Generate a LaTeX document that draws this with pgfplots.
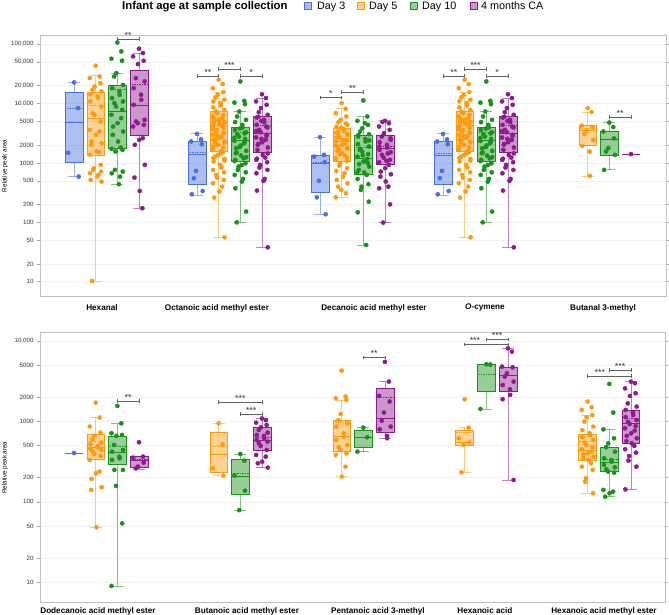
\documentclass[border=0pt]{standalone}
\usepackage{fontspec}
\setmainfont{Liberation Sans}
\usepackage{pgfplots}
\usepackage{pgfplotstable}
\pgfplotsset{compat=1.18}

\definecolor{cB}{HTML}{4A6FE3}
\definecolor{cO}{HTML}{FF9A10}
\definecolor{cG}{HTML}{18921A}
\definecolor{cP}{HTML}{8E1A8E}

% ---------- data (relative peak area, one value per point) ----------
\pgfplotstableread[row sep=\\,header=false]{22700\\8400\\1480\\590\\}\tHexB
\pgfplotstableread[row sep=\\,header=false]{43400\\28600\\26900\\22100\\19400\\17100\\16000\\14400\\13200\\12400\\10900\\8900\\6900\\6500\\5000\\3600\\3400\\2980\\2300\\2150\\2020\\1560\\1520\\1370\\930\\815\\765\\717\\671\\630\\590\\519\\486\\10.3\\}\tHexO
\pgfplotstableread[row sep=\\,header=false]{107000\\75700\\56900\\52700\\32700\\28700\\20700\\18200\\16000\\14100\\12400\\10900\\10200\\8940\\7850\\6470\\5690\\4680\\4110\\3390\\2980\\2300\\1820\\1730\\1660\\1560\\764\\716\\671\\590\\439\\}\tHexG
\pgfplotstableread[row sep=\\,header=false]{84000\\71000\\62400\\52700\\46300\\26900\\23600\\18200\\14100\\11600\\9540\\5330\\5000\\4680\\4390\\4110\\2620\\2450\\2020\\930\\568\\338\\173\\}\tHexP
\pgfplotstableread[row sep=\\,header=false]{3090\\2500\\2300\\2070\\736\\553\\338\\297\\}\tOctB
\pgfplotstableread[row sep=\\,header=false]{25200\\21300\\18200\\15600\\14100\\12700\\11600\\10900\\10200\\9300\\8600\\7850\\7360\\6900\\6470\\6070\\5690\\5330\\5130\\4870\\4680\\4500\\4280\\4060\\3860\\3610\\3390\\3180\\2980\\2790\\2620\\2450\\2300\\2150\\2020\\1820\\1660\\1520\\1370\\1280\\1170\\1060\\930\\838\\765\\698\\630\\568\\519\\456\\400\\330\\261\\56\\5500\\5000\\4400\\3700\\3300\\2880\\2500\\2200\\1900\\1580\\1450\\1220\\1100\\}\tOctO
\pgfplotstableread[row sep=\\,header=false]{23600\\11100\\10400\\9800\\7360\\6070\\5330\\4870\\4390\\3960\\3610\\3300\\3050\\2790\\2550\\2360\\2150\\1970\\1770\\1600\\1460\\1330\\1200\\1080\\990\\870\\765\\698\\630\\539\\486\\375\\152\\100\\3800\\3150\\2650\\2250\\1850\\1500\\1250\\1130\\920\\}\tOctG
\pgfplotstableread[row sep=\\,header=false]{14400\\12400\\10900\\9540\\8380\\7180\\6470\\5830\\5330\\4870\\4390\\3960\\3610\\3300\\2980\\2690\\2450\\2240\\2020\\1820\\1660\\1370\\1230\\1130\\1030\\930\\838\\765\\671\\539\\499\\343\\38\\6000\\5100\\4100\\3450\\2850\\2550\\2100\\1450\\1180\\}\tOctP
\pgfplotstableread[row sep=\\,header=false]{2720\\1370\\1280\\1030\\499\\264\\137\\}\tDecB
\pgfplotstableread[row sep=\\,header=false]{10200\\8170\\6900\\6070\\5330\\4870\\4390\\4060\\3760\\3480\\3220\\2980\\2790\\2620\\2450\\2300\\2150\\2020\\1870\\1730\\1600\\1460\\1330\\1200\\1080\\990\\905\\817\\736\\671\\590\\519\\456\\400\\352\\309\\264\\4600\\3900\\3350\\3050\\2700\\2400\\2200\\1950\\1800\\1650\\1400\\1250\\1130\\}\tDecO
\pgfplotstableread[row sep=\\,header=false]{11300\\6070\\5130\\4390\\3860\\3390\\3050\\2790\\2550\\2300\\2070\\1890\\1730\\1560\\1410\\1280\\1170\\1060\\953\\871\\765\\698\\630\\539\\439\\400\\352\\223\\148\\41.6\\4700\\2950\\2400\\1650\\1350\\1000\\700\\}\tDecG
\pgfplotstableread[row sep=\\,header=false]{5130\\4680\\4110\\3610\\3180\\2790\\2450\\2240\\2020\\1820\\1660\\1520\\1370\\1230\\1130\\1030\\930\\817\\716\\646\\590\\486\\400\\375\\201\\99\\4900\\2600\\1900\\1450\\1080\\}\tDecP
\pgfplotstableread[row sep=\\,header=false]{8400\\7200\\4230\\4020\\3390\\3100\\2450\\1940\\1560\\605\\}\tBtlO
\pgfplotstableread[row sep=\\,header=false]{4800\\4020\\3390\\2600\\1780\\1560\\1370\\765\\}\tBtlG
\pgfplotstableread[row sep=\\,header=false]{1410\\}\tBtlP
\pgfplotstableread[row sep=\\,header=false]{405\\}\tDodB
\pgfplotstableread[row sep=\\,header=false]{1710\\1120\\863\\726\\661\\600\\546\\520\\496\\478\\459\\442\\421\\394\\372\\332\\238\\227\\193\\152\\141\\48.3\\}\tDodO
\pgfplotstableread[row sep=\\,header=false]{1560\\948\\713\\679\\661\\510\\442\\421\\365\\348\\332\\250\\250\\158\\54\\9.0\\}\tDodG
\pgfplotstableread[row sep=\\,header=false]{551\\365\\355\\308\\274\\261\\}\tDodP
\pgfplotstableread[row sep=\\,header=false]{948\\520\\261\\212\\}\tBumO
\pgfplotstableread[row sep=\\,header=false]{394\\326\\212\\138\\79\\}\tBumG
\pgfplotstableread[row sep=\\,header=false]{1090\\1040\\967\\904\\846\\783\\726\\679\\661\\618\\589\\561\\535\\496\\442\\383\\365\\316\\302\\267\\}\tBumP
\pgfplotstableread[row sep=\\,header=false]{4290\\2040\\1940\\1850\\1240\\1040\\948\\863\\713\\647\\589\\510\\478\\442\\401\\383\\274\\206\\}\tPenO
\pgfplotstableread[row sep=\\,header=false]{838\\636\\421\\}\tPenG
\pgfplotstableread[row sep=\\,header=false]{5500\\3130\\2080\\1770\\1290\\1020\\863\\798\\661\\618\\}\tPenP
\pgfplotstableread[row sep=\\,header=false]{1890\\838\\618\\546\\510\\233\\}\tHxaO
\pgfplotstableread[row sep=\\,header=false]{5140\\5100\\1430\\}\tHxaG
\pgfplotstableread[row sep=\\,header=false]{8130\\7380\\4810\\4720\\3970\\3610\\3130\\2840\\2510\\2140\\1890\\187\\}\tHxaP
\pgfplotstableread[row sep=\\,header=false]{1770\\1500\\1390\\1200\\1130\\995\\863\\783\\713\\679\\636\\589\\546\\510\\478\\451\\421\\401\\383\\365\\348\\332\\302\\274\\250\\196\\178\\128\\}\tHxmO
\pgfplotstableread[row sep=\\,header=false]{2930\\1290\\798\\618\\535\\478\\421\\348\\332\\316\\288\\269\\254\\238\\231\\141\\134\\128\\116\\}\tHxmG
\pgfplotstableread[row sep=\\,header=false]{3130\\2990\\2580\\2240\\2080\\1680\\1530\\1390\\1290\\1200\\1130\\1040\\986\\931\\879\\822\\769\\713\\661\\618\\571\\535\\496\\451\\410\\372\\326\\274\\143\\}\tHxmP

% ---------- helpers ----------
% box: colour, position, lower whisker, Q1, median, Q3, upper whisker, mean
\newcommand{\bx}[8]{%
 \pgfmathsetmacro\bxl{#2-0.072}\pgfmathsetmacro\bxr{#2+0.072}%
 \pgfmathsetmacro\bcl{#2-0.05}\pgfmathsetmacro\bcr{#2+0.05}%
 \addplot[draw=#1, draw opacity=0.55, line width=0.8bp, mark=none] coordinates {(#2,#3) (#2,#4)};
 \addplot[draw=#1, draw opacity=0.55, line width=0.8bp, mark=none] coordinates {(#2,#6) (#2,#7)};
 \addplot[draw=#1, draw opacity=0.55, line width=0.8bp, mark=none] coordinates {(\bcl,#3) (\bcr,#3)};
 \addplot[draw=#1, draw opacity=0.55, line width=0.8bp, mark=none] coordinates {(\bcl,#7) (\bcr,#7)};
 \addplot[draw=#1, fill=#1, fill opacity=0.45, line width=0.6bp, mark=none] coordinates {(\bxl,#4) (\bxr,#4) (\bxr,#6) (\bxl,#6)} --cycle;
 \addplot[draw=#1, line width=0.8bp, mark=none] coordinates {(\bxl,#5) (\bxr,#5)};
 \addplot[draw=#1, densely dotted, line width=0.7bp, mark=none] coordinates {(\bxl,#8) (\bxr,#8)};
}
% points: position, table, colour
\newcommand{\pts}[3]{%
\addplot[only marks, mark=*, mark size=2.1bp, color=#3, mark options={draw=none, fill=#3}]
  table[x expr={#1+0.048*sin(137.508*\coordindex)}, y index=0] {#2};}
% significance bracket: x1, x2, y, stars [, x of the stars]
\newcommand{\sigline}[3]{%
 \draw[black!62, line width=0.7bp] (axis cs:#1,#3) -- (axis cs:#2,#3);
 \draw[black!62, line width=0.7bp] ([yshift=-1.7bp]axis cs:#1,#3) -- ([yshift=1.7bp]axis cs:#1,#3);
 \draw[black!62, line width=0.7bp] ([yshift=-1.7bp]axis cs:#2,#3) -- ([yshift=1.7bp]axis cs:#2,#3);}
\newcommand{\sig}[4]{%
 \sigline{#1}{#2}{#3}
 \path (axis cs:#1,#3) -- node[above, inner sep=0.6bp, font=\fontsize{9}{9}\selectfont, text=black!80] {#4} (axis cs:#2,#3);}
\newcommand{\sigx}[5]{%
 \sigline{#1}{#2}{#3}
 \node[above, inner sep=0.6bp, font=\fontsize{9}{9}\selectfont, text=black!80] at (axis cs:#5,#3) {#4};}

\pgfplotsset{
 mypanel/.style={
  scale only axis, xmin=-0.5407,
  axis line style={draw=black!25, line width=0.8bp},
  ymajorgrids, grid style={draw=black!6, line width=0.6bp},
  tick align=outside, major tick length=3bp,
  ytick pos=both, yticklabel pos=left,
  ytick style={draw=black!35, line width=0.6bp},
  xtick style={draw=none},
  yticklabel style={font=\fontsize{6.2}{7}\selectfont, text=black!80},
  xticklabel style={font=\bfseries\fontsize{8.2}{10}\selectfont, text=black},
  ylabel={Relative peak area},
  ylabel style={font=\fontsize{6.3}{7}\selectfont, anchor=center, at={([xshift=-35bp]axis description cs:0,0.5)}},
  clip=false,
 }
}

\begin{document}
\begin{tikzpicture}
\useasboundingbox (0,0) rectangle (669bp,-615bp);

% ---------- legend ----------
\tikzset{lsq/.style={minimum size=6.8bp, inner sep=0, line width=0.6bp, fill opacity=0.45, draw opacity=1, anchor=west},
         ltx/.style={inner sep=0, font=\fontsize{10.8}{13}\selectfont, anchor=base west}}
\node[anchor=base west, inner sep=0, font=\bfseries\fontsize{11.4}{13}\selectfont] at (122bp,-9.7bp) {Infant age at sample collection};
\node[lsq, draw=cB, fill=cB] at (304bp,-5.8bp) {};
\node[ltx] at (317bp,-9.7bp) {Day 3};
\node[lsq, draw=cO, fill=cO] at (357bp,-5.8bp) {};
\node[ltx] at (369bp,-9.7bp) {Day 5};
\node[lsq, draw=cG, fill=cG] at (410bp,-5.8bp) {};
\node[ltx] at (422bp,-9.7bp) {Day 10};
\node[lsq, draw=cP, fill=cP] at (470bp,-5.8bp) {};
\node[ltx] at (481bp,-9.7bp) {4 months CA};

% ---------- top panel ----------
\begin{axis}[mypanel, ymode=log, yminorticks=false, at={(40bp,-296.7bp)}, anchor=south west,
  width=626bp, height=261.7bp, xmax=4.549, ymin=5.6, ymax=143000,
  ytick={10,20,50,100,200,500,1000,2000,5000,10000,20000,50000,100000},
  yticklabels={10,20,50,100,200,500,1000,2000,5000,{10,000},{20,000},{50,000},{100,000}},
  xtick={-0.037,0.898,2.175,3.077,4.037},
  xticklabels={Hexanal,Octanoic acid methyl ester,Decanoic acid methyl ester,{\textit{O}-cymene},Butanal 3-methyl},
  xticklabel style={yshift=-1bp}]
\bx{cB}{-0.264}{590}{1030}{4870}{15600}{22700}{8400}
\bx{cO}{-0.088}{10.3}{1330}{5700}{15600}{29400}{9300}
\bx{cG}{0.088}{432}{1780}{7270}{20500}{32700}{17600}
\bx{cP}{0.264}{173}{2980}{9300}{35700}{71000}{21300}
\pts{-0.264}{\tHexB}{cB}\pts{-0.088}{\tHexO}{cO}\pts{0.088}{\tHexG}{cG}\pts{0.264}{\tHexP}{cP}
\bx{cB}{0.736}{290}{444}{1370}{2350}{3090}{1500}
\bx{cO}{0.912}{56}{1560}{4280}{7360}{15600}{5190}
\bx{cG}{1.088}{100}{1080}{2360}{3960}{7360}{3260}
\bx{cP}{1.264}{38}{1520}{3090}{6230}{12400}{4280}
\pts{0.736}{\tOctB}{cB}\pts{0.912}{\tOctO}{cO}\pts{1.088}{\tOctG}{cG}\pts{1.264}{\tOctP}{cP}
\bx{cB}{1.736}{137}{321}{980}{1330}{2720}{1030}
\bx{cO}{1.912}{264}{1060}{2300}{3800}{8170}{2550}
\bx{cG}{2.088}{41.6}{646}{1200}{2870}{6070}{1840}
\bx{cP}{2.264}{99}{953}{1730}{2870}{5130}{1890}
\pts{1.736}{\tDecB}{cB}\pts{1.912}{\tDecO}{cO}\pts{2.088}{\tDecG}{cG}\pts{2.264}{\tDecP}{cP}
\bx{cB}{2.736}{290}{444}{1330}{2350}{3090}{1460}
\bx{cO}{2.912}{56}{1560}{4280}{7360}{15600}{5190}
\bx{cG}{3.088}{100}{1080}{2360}{3960}{7360}{3260}
\bx{cP}{3.264}{38}{1520}{3090}{6230}{12400}{4280}
\pts{2.736}{\tOctB}{cB}\pts{2.912}{\tOctO}{cO}\pts{3.088}{\tOctG}{cG}\pts{3.264}{\tOctP}{cP}
\bx{cO}{3.912}{605}{1960}{3520}{4230}{7200}{3900}
\bx{cG}{4.088}{765}{1350}{2450}{3480}{4800}{2520}
\bx{cP}{4.264}{1410}{1410}{1410}{1410}{1410}{1410}
\pts{3.912}{\tBtlO}{cO}\pts{4.088}{\tBtlG}{cG}\pts{4.264}{\tBtlP}{cP}
\sig{0.088}{0.264}{122000}{**}
\sig{0.736}{0.912}{29000}{**}
\sig{0.912}{1.088}{38100}{***}
\sig{1.088}{1.264}{29000}{*}
\sig{1.736}{1.912}{12700}{*}
\sig{1.912}{2.088}{15600}{**}
\sig{2.736}{2.912}{29000}{**}
\sig{2.912}{3.088}{38100}{***}
\sig{3.088}{3.264}{29000}{*}
\sig{4.088}{4.264}{5980}{**}
\end{axis}

% ---------- bottom panel ----------
\begin{axis}[mypanel, ymode=log, yminorticks=false, at={(40bp,-602.7bp)}, anchor=south west,
  width=625bp, height=270bp, xmax=4.541, ymin=5.57, ymax=12700,
  ytick={10,20,50,100,200,500,1000,2000,5000,10000},
  yticklabels={10,20,50,100,200,500,1000,2000,5000,{10,000}},
  xtick={-0.069,1.142,2.207,3.077,4.045},
  xticklabels={Dodecanoic acid methyl ester,Butanoic acid methyl ester,Pentanoic acid 3-methyl,Hexanoic acid,Hexanoic acid methyl ester},
  xticklabel style={yshift=1.8bp}]
\bx{cB}{-0.264}{405}{405}{405}{405}{405}{405}
\bx{cO}{-0.088}{48.3}{338}{478}{692}{1120}{560}
\bx{cG}{0.088}{9.0}{293}{410}{661}{948}{487}
\bx{cP}{0.264}{256}{269}{326}{365}{365}{342}
\pts{-0.264}{\tDodB}{cB}\pts{-0.088}{\tDodO}{cO}\pts{0.088}{\tDodG}{cG}\pts{0.264}{\tDodP}{cP}
\bx{cO}{0.912}{212}{233}{391}{733}{948}{487}
\bx{cG}{1.088}{79}{124}{210}{342}{394}{227}
\bx{cP}{1.264}{267}{442}{589}{846}{1090}{636}
\pts{0.912}{\tBumO}{cO}\pts{1.088}{\tBumG}{cG}\pts{1.264}{\tBumP}{cP}
\bx{cO}{1.912}{206}{421}{647}{1020}{1850}{966}
\bx{cG}{2.088}{421}{473}{636}{783}{838}{640}
\bx{cP}{2.264}{618}{733}{1090}{2580}{3130}{1980}
\pts{1.912}{\tPenO}{cO}\pts{2.088}{\tPenG}{cG}\pts{2.264}{\tPenP}{cP}
\bx{cO}{2.912}{233}{510}{551}{783}{838}{740}
\bx{cG}{3.088}{1430}{2350}{5100}{5140}{5140}{3860}
\bx{cP}{3.264}{187}{2350}{3790}{4720}{8130}{3790}
\pts{2.912}{\tHxaO}{cO}\pts{3.088}{\tHxaG}{cG}\pts{3.264}{\tHxaP}{cP}
\bx{cO}{3.912}{128}{332}{442}{692}{1200}{561}
\bx{cG}{4.088}{116}{238}{308}{478}{798}{340}
\bx{cP}{4.264}{143}{535}{948}{1390}{3130}{1090}
\pts{3.912}{\tHxmO}{cO}\pts{4.088}{\tHxmG}{cG}\pts{4.264}{\tHxmP}{cP}
\sig{0.088}{0.264}{1800}{**}
\sig{0.912}{1.264}{1750}{***}
\sig{1.088}{1.264}{1240}{***}
\sig{2.088}{2.264}{6280}{**}
\sigx{2.912}{3.264}{9000}{***}{2.996}
\sig{3.088}{3.264}{10400}{***}
\sigx{3.912}{4.264}{3680}{***}{4.012}
\sig{4.088}{4.264}{4370}{***}
\end{axis}
\end{tikzpicture}
\end{document}
